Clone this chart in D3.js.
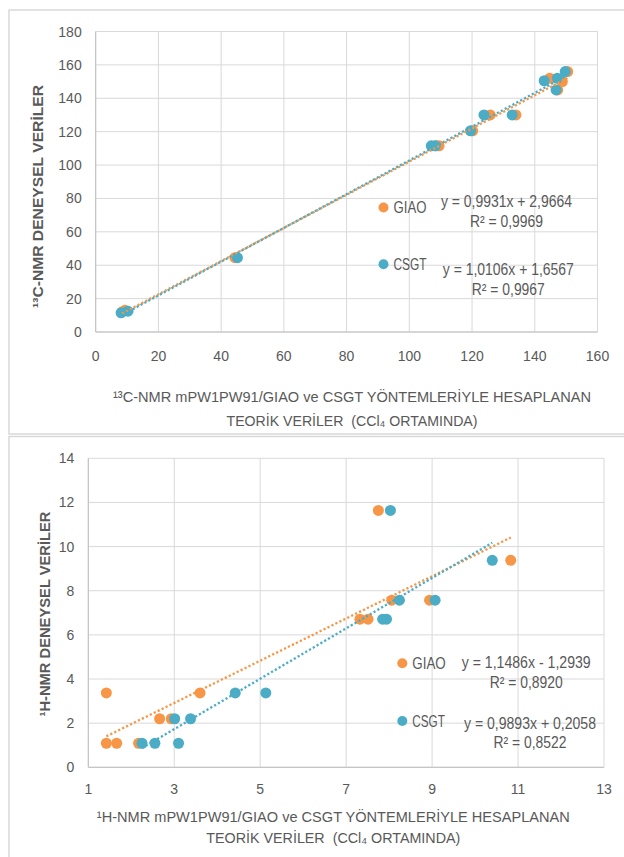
<!DOCTYPE html>
<html>
<head>
<meta charset="utf-8">
<script src="https://cdn.jsdelivr.net/npm/d3@7"></script>
<style>
  html, body { margin: 0; padding: 0; background: #fff; }
  svg { display: block; }
</style>
</head>
<body>
<svg id="chart" width="624" height="857"></svg>
<script>
// ---- 13C-NMR data (theoretical x, experimental y) ----
const c13GiaoX = [150.5, 144.8, 148.8, 147.3, 125.8, 134.0, 120.2, 109.5, 108.5, 44.4, 9.3, 8.4];
const c13GiaoY = [156.0, 152.0, 150.0, 145.0, 130.0, 130.0, 120.5, 111.5, 111.5, 44.5, 13.0, 12.0];
const c13CsgtX = [149.7, 147.2, 143.0, 146.8, 123.8, 132.8, 119.5, 107.0, 108.3, 45.2, 10.3, 8.1];
const c13CsgtY = [156.0, 152.0, 150.5, 145.0, 130.0, 130.0, 120.5, 111.5, 111.5, 44.5, 12.5, 11.5];
const c13XTicks = [0, 20, 40, 60, 80, 100, 120, 140, 160];
const c13YTicks = [0, 20, 40, 60, 80, 100, 120, 140, 160, 180];
const c13Equations = ['y = 0,9931x + 2,9664', 'y = 1,0106x + 1,6567'];
const c13R2 = ['R² = 0,9969', 'R² = 0,9967'];

// ---- 1H-NMR data ----
const h1GiaoX = [7.75, 10.83, 8.06, 8.94, 7.32, 7.51, 1.42, 3.60, 2.66, 2.93, 1.42, 1.66, 2.17];
const h1GiaoY = [11.64, 9.38, 7.57, 7.57, 6.71, 6.71, 3.37, 3.37, 2.20, 2.20, 1.09, 1.09, 1.09];
const h1CsgtX = [8.03, 10.40, 8.24, 9.07, 7.85, 7.94, 4.42, 5.13, 3.01, 3.38, 2.25, 2.55, 3.10];
const h1CsgtY = [11.64, 9.38, 7.57, 7.57, 6.71, 6.71, 3.37, 3.37, 2.20, 2.20, 1.09, 1.09, 1.09];
const h1XTicks = [1, 3, 5, 7, 9, 11, 13];
const h1YTicks = [0, 2, 4, 6, 8, 10, 12, 14];
const h1Equations = ['y = 1,1486x - 1,2939', 'y = 0,9893x + 0,2058'];
const h1R2 = ['R² = 0,8920', 'R² = 0,8522'];

const seriesNames = ['GIAO', 'CSGT'];
const seriesColors = ['#F79646', '#4BACC6'];

const textColor = '#595959';
const gridColor = '#d9d9d9';
const fontFamily = '"Liberation Sans", Arial, sans-serif';

const svg = d3.select('#chart');

// panel frames
svg.append('rect')
  .attr('x', 9).attr('y', 10).attr('width', 640).attr('height', 424)
  .attr('fill', 'none').attr('stroke', gridColor).attr('stroke-width', 1.5);
svg.append('rect')
  .attr('x', 9).attr('y', 436.5).attr('width', 640).attr('height', 440)
  .attr('fill', 'none').attr('stroke', gridColor).attr('stroke-width', 1.5);

// least squares fit
function linearFit(xs, ys) {
  const mx = d3.mean(xs), my = d3.mean(ys);
  let sxy = 0, sxx = 0;
  xs.forEach((x, i) => { sxy += (x - mx) * (ys[i] - my); sxx += (x - mx) * (x - mx); });
  const m = sxy / sxx;
  return { m: m, b: my - m * mx };
}

// text squeezed to a fixed rendered width (narrow Calibri look)
function fitText(g, str, x, y, width, opts) {
  opts = opts || {};
  const t = g.append('text')
    .attr('x', x).attr('y', y)
    .attr('fill', textColor)
    .attr('font-family', fontFamily)
    .attr('font-size', opts.size || 16)
    .attr('font-weight', opts.weight || 'normal')
    .attr('text-anchor', opts.anchor || 'middle')
    .attr('dominant-baseline', 'central')
    .attr('textLength', width)
    .attr('lengthAdjust', 'spacingAndGlyphs')
    .text(str);
  if (opts.transform) t.attr('transform', opts.transform);
  return t;
}

function drawChart(cfg) {
  const g = svg.append('g');
  const x = d3.scaleLinear().domain(cfg.xDomain).range(cfg.xRange);
  const y = d3.scaleLinear().domain(cfg.yDomain).range(cfg.yRange);

  // gridlines
  g.selectAll('.vgrid').data(cfg.xTicks).join('line')
    .attr('x1', d => x(d)).attr('x2', d => x(d))
    .attr('y1', y.range()[0]).attr('y2', y.range()[1])
    .attr('stroke', gridColor).attr('stroke-width', 1);
  g.selectAll('.hgrid').data(cfg.yTicks).join('line')
    .attr('x1', x.range()[0]).attr('x2', x.range()[1])
    .attr('y1', d => y(d)).attr('y2', d => y(d))
    .attr('stroke', gridColor).attr('stroke-width', 1);

  // axis lines
  g.append('line')
    .attr('x1', x.range()[0]).attr('x2', x.range()[1])
    .attr('y1', y.range()[0]).attr('y2', y.range()[0])
    .attr('stroke', '#bfbfbf').attr('stroke-width', 1);
  g.append('line')
    .attr('x1', x.range()[0]).attr('x2', x.range()[0])
    .attr('y1', y.range()[0]).attr('y2', y.range()[1])
    .attr('stroke', '#bfbfbf').attr('stroke-width', 1);

  // tick labels
  g.selectAll('.xt').data(cfg.xTicks).join('text')
    .attr('x', d => x(d)).attr('y', cfg.xLabelY)
    .attr('text-anchor', 'middle').attr('dominant-baseline', 'central')
    .attr('fill', textColor).attr('font-family', fontFamily).attr('font-size', 14)
    .text(d => d);
  g.selectAll('.yt').data(cfg.yTicks).join('text')
    .attr('x', x.range()[0] - 14).attr('y', d => y(d))
    .attr('text-anchor', 'end').attr('dominant-baseline', 'central')
    .attr('fill', textColor).attr('font-family', fontFamily).attr('font-size', 14)
    .text(d => d);

  // markers
  cfg.series.forEach((s, si) => {
    g.selectAll('.pt' + si).data(s.xs.map((v, i) => [v, s.ys[i]])).join('circle')
      .attr('cx', d => x(d[0])).attr('cy', d => y(d[1]))
      .attr('r', 5.5)
      .attr('fill', seriesColors[si]);
  });

  // dotted trendlines
  cfg.series.forEach((s, si) => {
    const fit = linearFit(s.xs, s.ys);
    const [x0, x1] = d3.extent(s.xs);
    g.append('line')
      .attr('x1', x(x0)).attr('y1', y(fit.m * x0 + fit.b))
      .attr('x2', x(x1)).attr('y2', y(fit.m * x1 + fit.b))
      .attr('stroke', seriesColors[si])
      .attr('stroke-width', 2.3)
      .attr('stroke-dasharray', '2.2,2.2');
  });

  // legend + equations
  cfg.legend.forEach((l, si) => {
    g.append('circle').attr('cx', l.dotX).attr('cy', l.dotY).attr('r', 5)
      .attr('fill', seriesColors[si]);
    fitText(g, seriesNames[si], l.dotX + 10, l.dotY, l.nameW, { anchor: 'start' });
    fitText(g, cfg.equations[si], l.eqX, l.eqY, l.eqW);
    fitText(g, cfg.r2[si], l.eqX, l.eqY + l.r2Dy, l.r2W);
  });

  // axis titles
  fitText(g, cfg.yTitle, 0, 0, cfg.yTitleW, {
    weight: 'bold', size: cfg.yTitleSize,
    transform: 'translate(' + cfg.yTitleX + ',' + cfg.yTitleY + ') rotate(-90)'
  });
  fitText(g, cfg.xTitle1, cfg.xTitleX, cfg.xTitleY, cfg.xTitle1W, { size: 15.5 });
  fitText(g, cfg.xTitle2, cfg.xTitleX, cfg.xTitleY + cfg.xTitleDy, cfg.xTitle2W, { size: 15.5 });
}

drawChart({
  xDomain: [0, 160], xRange: [95.7, 597.5],
  yDomain: [0, 180], yRange: [332, 31.5],
  xTicks: c13XTicks, yTicks: c13YTicks,
  xLabelY: 356,
  series: [{ xs: c13GiaoX, ys: c13GiaoY }, { xs: c13CsgtX, ys: c13CsgtY }],
  equations: c13Equations, r2: c13R2,
  legend: [
    { dotX: 383.5, dotY: 207.5, nameW: 33, eqX: 506.5, eqY: 201, eqW: 131, r2Dy: 20.7, r2W: 73 },
    { dotX: 383.5, dotY: 264.3, nameW: 33, eqX: 508.3, eqY: 269.3, eqW: 131, r2Dy: 19.7, r2W: 73 }
  ],
  yTitle: '¹³C-NMR DENEYSEL VERİLER', yTitleX: 37, yTitleY: 196.5, yTitleW: 223, yTitleSize: 15,
  xTitle1: '¹³C-NMR mPW1PW91/GIAO ve CSGT YÖNTEMLERİYLE HESAPLANAN',
  xTitle2: 'TEORİK VERİLER\u00A0\u00A0(CCl₄ ORTAMINDA)',
  xTitleX: 352, xTitleY: 396.7, xTitleDy: 24, xTitle1W: 478, xTitle2W: 251
});

drawChart({
  xDomain: [1, 13], xRange: [88.3, 604],
  yDomain: [0, 14], yRange: [767.3, 458.3],
  xTicks: h1XTicks, yTicks: h1YTicks,
  xLabelY: 789.3,
  series: [{ xs: h1GiaoX, ys: h1GiaoY }, { xs: h1CsgtX, ys: h1CsgtY }],
  equations: h1Equations, r2: h1R2,
  legend: [
    { dotX: 402.3, dotY: 663.3, nameW: 33.5, eqX: 526.2, eqY: 662.3, eqW: 129, r2Dy: 20, r2W: 73 },
    { dotX: 402.3, dotY: 721, nameW: 32.5, eqX: 530, eqY: 723.3, eqW: 132, r2Dy: 19.4, r2W: 73 }
  ],
  yTitle: '¹H-NMR DENEYSEL VERİLER', yTitleX: 44.5, yTitleY: 614, yTitleW: 205, yTitleSize: 14,
  xTitle1: '¹H-NMR mPW1PW91/GIAO ve CSGT YÖNTEMLERİYLE HESAPLANAN',
  xTitle2: 'TEORİK VERİLER\u00A0\u00A0(CCl₄ ORTAMINDA)',
  xTitleX: 333.3, xTitleY: 816.7, xTitleDy: 20.6, xTitle1W: 473, xTitle2W: 254
});
</script>
</body>
</html>
